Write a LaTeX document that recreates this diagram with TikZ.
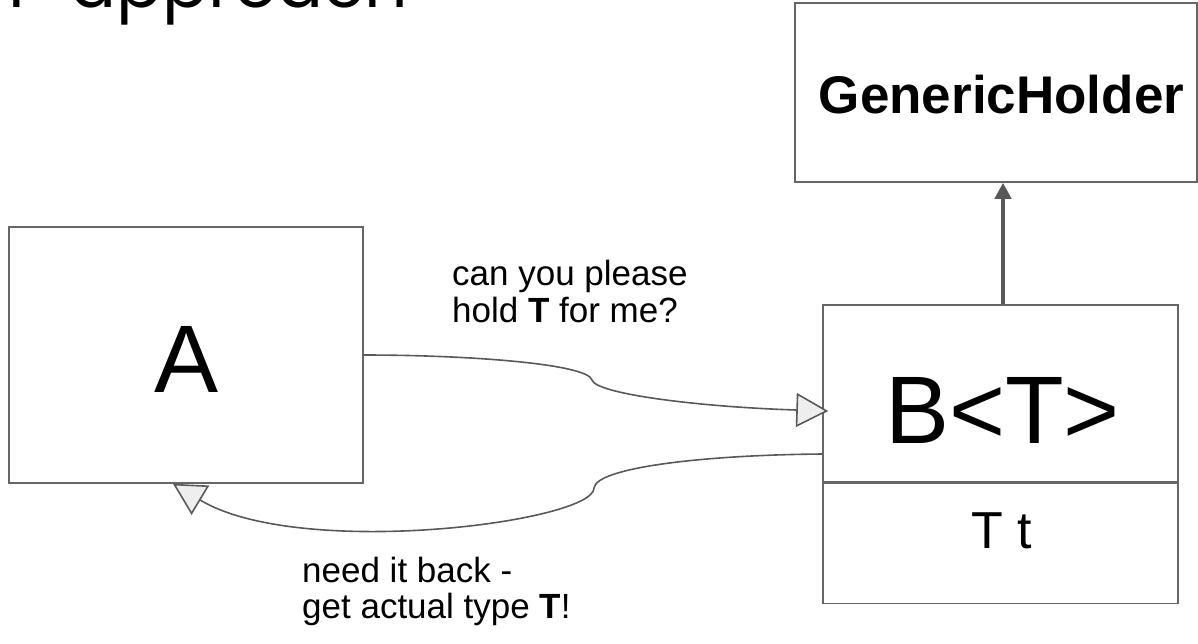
\documentclass[tikz,border=0pt]{standalone}
\usepackage{fontspec}
\setmainfont{Liberation Sans}
\newfontfamily\titlefont{Poppins}
\usetikzlibrary{arrows.meta}
\definecolor{edgegray}{HTML}{666666}
\definecolor{linkgray}{HTML}{595959}
\definecolor{tipfill}{HTML}{EEEEEE}
\tikzset{
  box/.style={draw=edgegray, line width=1.5pt, inner sep=0pt},
  bigname/.style={anchor=base, inner sep=0pt, font=\fontsize{96}{96}\selectfont},
  lbl/.style={anchor=base west, inner sep=0pt, font=\fontsize{35}{37}\selectfont},
  flow/.style={draw=linkgray, line width=1.6pt,
    -{Triangle[length=32pt,width=34pt,fill=tipfill]}},
  inherit/.style={draw=linkgray, line width=4.5pt,
    -{Triangle[length=16pt,width=16pt]}}
}
\begin{document}
\begin{tikzpicture}[x=1pt,y=-1pt]
\useasboundingbox (0,0) rectangle (1198,643);
\clip (0,0) rectangle (1198,643);

% slide title, cut off by the top edge
\node[anchor=base west, inner sep=0pt, font=\titlefont\fontsize{68}{68}\selectfont]
  (title) at (8,7) {r\hspace{0.55em}approach};

% class boxes
\node[box, minimum width=354pt, minimum height=256pt] (A) at (186,355) {};
\node[bigname] (Aname) at (186.5,392) {A};

\node[box, minimum width=402pt, minimum height=179pt] (G) at (996,92.5) {};
\node[anchor=base, inner sep=0pt, font=\bfseries\fontsize{53}{53}\selectfont]
  (Gname) at (1001.5,113) {GenericHolder};

\node[box, minimum width=355pt, minimum height=177pt] (B) at (1000.5,393.5) {};
\node[box, minimum width=355pt, minimum height=120pt, anchor=north] (Bfield) at (B.south) {};
\node[bigname] (Bname) at (1002.5,443) {B<T>};
\node[anchor=base, inner sep=0pt, font=\fontsize{52}{52}\selectfont] (Bt) at (1002,548) {T t};

% connector end points
\coordinate (toB) at ([xshift=6pt,yshift=-17.5pt]B.west);
\coordinate (fromB) at ([yshift=-60.5pt]B.west);
\coordinate (toA) at ([xshift=-13pt]A.south);

% A hands T over to B<T>
\draw[flow] (A.east) .. controls (470,355) and (588,364) .. (592,380)
  .. controls (596,394) and (700,407) .. (toB);
% B<T> hands it back to A
\draw[flow] (fromB) .. controls (700,455) and (596,468) .. (594,488)
  .. controls (594,522) and (300,560) .. (toA);

% B<T> extends GenericHolder
\draw[inherit] ([xshift=2.5pt]B.north) -- ([xshift=2.5pt]B.north |- G.south);

% connector labels
\node[lbl] (ask1) at (452,285) {can you please};
\node[lbl] (ask2) at (452,322) {hold \textbf{T} for me?};
\node[lbl] (back1) at (302,582) {need it back -};
\node[lbl] (back2) at (302,618) {get actual type \textbf{T}!};
\end{tikzpicture}
\end{document}
